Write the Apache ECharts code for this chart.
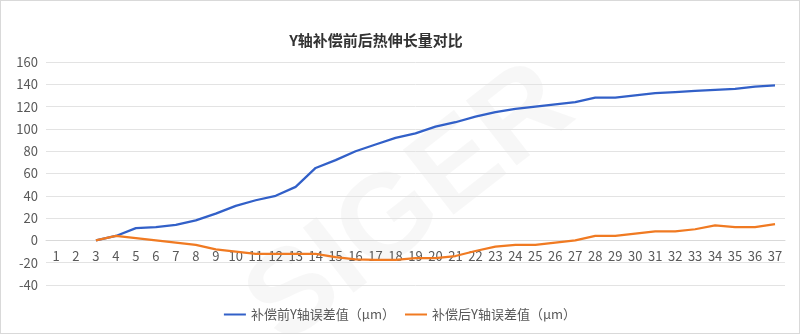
<!DOCTYPE html>
<html>
<head>
<meta charset="utf-8">
<script src="https://cdn.jsdelivr.net/npm/echarts@6/dist/echarts.min.js"></script>
<style>
  html, body { margin: 0; padding: 0; background: #fff; }
  #chart { width: 800px; height: 334px; box-sizing: border-box; border: 1px solid #d9d9d9; }
</style>
</head>
<body>
<div id="chart"></div>
<script>
// Measurement points 1..37
const categories = Array.from({ length: 37 }, (_, i) => String(i + 1));

// Y-axis error before compensation (μm); no readings for points 1-2
const beforeComp = [null, null, 0, 4, 11, 12, 14, 18, 24, 31, 36, 40, 48, 65, 72, 80, 86, 92, 96, 102,
  106, 111, 115, 118, 120, 122, 124, 128, 128, 130, 132, 133, 134, 135, 136, 138, 139];

// Y-axis error after compensation (μm)
const afterComp = [null, null, 0, 4, 2, 0, -2, -4, -8, -10, -12, -12, -12, -12, -15, -17, -17.5, -17.5, -16, -16,
  -14, -9.5, -5.5, -4, -4, -2, 0, 4, 4, 6, 8, 8, 10, 13.5, 12, 12, 14.5];

// Value axis range and step
const yMin = -40, yMax = 160, yStep = 20;

const seriesNames = ['补偿前Y轴误差值（μm）', '补偿后Y轴误差值（μm）'];
const titleText = 'Y轴补偿前后热伸长量对比';

const font = '"Microsoft YaHei", "Noto Sans CJK SC", "Noto Sans", sans-serif';
const chartH = 334;
const gridTop = 61, gridBottom = 48;
const plotH = chartH - gridTop - gridBottom;
// Shift the category axis up so its labels sit just below the zero line
const zeroOffset = -plotH * (0 - yMin) / (yMax - yMin);

const chart = echarts.init(document.getElementById('chart'), null, { renderer: 'canvas' });

chart.setOption({
  backgroundColor: '#fff',
  animation: false,
  title: {
    text: titleText,
    left: 370,
    top: 27,
    textAlign: 'center',
    textStyle: { fontFamily: font, fontSize: 15, fontWeight: 'bold', color: '#333' }
  },
  graphic: [{
    type: 'text',
    z: -1,
    silent: true,
    x: 410,
    y: 205,
    rotation: Math.PI * 38 / 180,
    style: {
      text: 'SIGER',
      font: 'bold 120px "Liberation Sans", Arial, sans-serif',
      fill: 'rgba(0,0,0,0.03)',
      align: 'center',
      verticalAlign: 'middle'
    }
  }],
  legend: {
    data: seriesNames,
    bottom: 7,
    left: 'center',
    itemWidth: 22,
    itemHeight: 2,
    itemGap: 10,
    icon: 'rect',
    textStyle: { fontFamily: font, fontSize: 13, color: '#595959' }
  },
  grid: { left: 45, right: 14, top: gridTop, bottom: gridBottom },
  xAxis: {
    type: 'category',
    data: categories,
    boundaryGap: true,
    offset: zeroOffset,
    axisLine: { show: true, onZero: false, lineStyle: { color: '#d9d9d9', width: 1 } },
    axisTick: { show: false },
    axisLabel: { color: '#595959', fontFamily: font, fontSize: 13, margin: 10, interval: 0 }
  },
  yAxis: {
    type: 'value',
    min: yMin,
    max: yMax,
    interval: yStep,
    axisLine: { show: false },
    axisTick: { show: false },
    axisLabel: { color: '#595959', fontFamily: font, fontSize: 13, margin: 8 },
    splitLine: { lineStyle: { color: '#e3e3e3', width: 1 } }
  },
  series: [
    {
      name: seriesNames[0],
      type: 'line',
      data: beforeComp,
      showSymbol: false,
      symbol: 'none',
      lineStyle: { color: '#3260c8', width: 2.25 },
      itemStyle: { color: '#3260c8' }
    },
    {
      name: seriesNames[1],
      type: 'line',
      data: afterComp,
      showSymbol: false,
      symbol: 'none',
      lineStyle: { color: '#f07a22', width: 2.25 },
      itemStyle: { color: '#f07a22' }
    }
  ]
});
</script>
</body>
</html>
